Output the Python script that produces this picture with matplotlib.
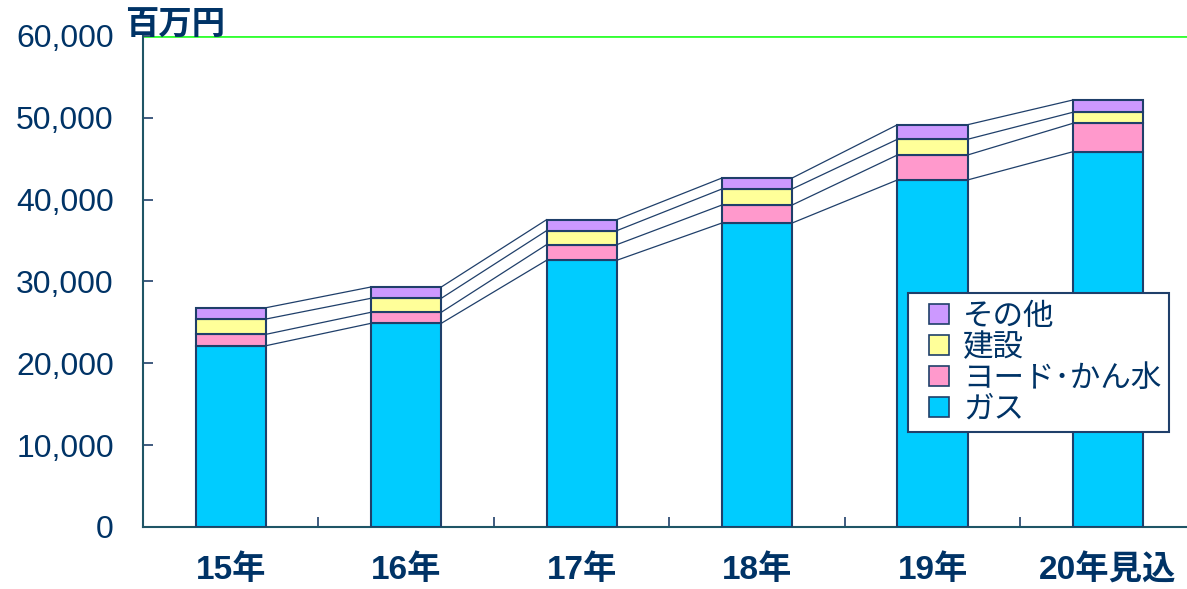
import matplotlib
matplotlib.use("Agg")
import matplotlib.pyplot as plt
from matplotlib.lines import Line2D
from matplotlib.ticker import FuncFormatter, FixedLocator

# values in million yen
years = ["15年", "16年", "17年", "18年", "19年", "20年見込"]
gas = [22150, 24890, 32590, 37150, 42410, 45860]
iodine = [1390, 1350, 1910, 2200, 3050, 3470]
construction = [1870, 1710, 1710, 1960, 1920, 1350]
other = [1380, 1380, 1340, 1340, 1780, 1500]

series = [
    ("ガス", gas, "#00CCFF"),
    ("ヨード･かん水", iodine, "#FF99CC"),
    ("建設", construction, "#FFFF99"),
    ("その他", other, "#CC99FF"),
]

NAVY = "#003366"
EDGE = "#1f3f6a"
FONTS = ["Liberation Sans", "Noto Sans CJK JP", "DejaVu Sans"]
plt.rcParams["font.family"] = FONTS

fig = plt.figure(figsize=(11.87, 5.89), dpi=100)
ax = fig.add_axes([0.1205, 0.1053, 0.8795, 0.8336])

x = list(range(len(years)))
width = 0.4
bottom = [0] * len(years)
tops = []
for name, vals, color in series:
    ax.bar(x, vals, width, bottom=bottom, color=color, edgecolor=EDGE, lw=1.5, zorder=3)
    bottom = [b + v for b, v in zip(bottom, vals)]
    tops.append(list(bottom))

# connector lines between bars
for level in tops:
    for i in range(len(x) - 1):
        ax.plot([x[i] + width / 2, x[i + 1] - width / 2], [level[i], level[i + 1]],
                color=EDGE, lw=0.9, zorder=2)

ax.axhline(60000, color="#33FF33", lw=2, zorder=1)

ax.set_xlim(-0.5, 5.45)
ax.set_ylim(0, 60000)
ax.set_yticks(range(0, 60001, 10000))
ax.yaxis.set_major_formatter(FuncFormatter(lambda v, p: f"{int(v):,}"))
ax.set_xticks(x)
ax.set_xticklabels(years, fontweight="bold", fontsize=24, color=NAVY)
ax.xaxis.set_minor_locator(FixedLocator([i + 0.5 for i in range(len(x) - 1)]))
ax.tick_params(axis="x", which="major", length=0, pad=20)
ax.tick_params(axis="x", which="minor", direction="in", length=7, color=EDGE, width=1.2)
ax.tick_params(axis="y", direction="in", length=7, color=EDGE, width=1.2, pad=21,
               labelsize=23, labelcolor=NAVY)

for s in ("top", "right"):
    ax.spines[s].set_visible(False)
for s in ("left", "bottom"):
    ax.spines[s].set_color("#1f5566")
    ax.spines[s].set_linewidth(1.5)

fig.text(125 / 1187, 1 - 25 / 589, "百万円", fontsize=24, fontweight="bold",
         color=NAVY, va="center", ha="left", family=["Noto Sans CJK JP"])

handles = [Line2D([], [], ls="none", marker="s", markersize=14.5, markerfacecolor=c,
                  markeredgecolor=EDGE, markeredgewidth=1.2, label=n)
           for n, _, c in series][::-1]
leg = ax.legend(handles=handles, loc="upper left", bbox_to_anchor=(908 / 1187, 1 - 293 / 589),
                bbox_transform=fig.transFigure, borderaxespad=0, fancybox=False,
                prop={"family": ["Noto Sans CJK JP"], "size": 22},
                labelspacing=0.0, handlelength=1.5, handletextpad=0.05,
                borderpad=0.25, framealpha=1)
leg.get_frame().set_edgecolor(EDGE)
leg.get_frame().set_linewidth(1.5)
for t in leg.get_texts():
    t.set_color(NAVY)

fig.savefig("out.png", dpi=100)
